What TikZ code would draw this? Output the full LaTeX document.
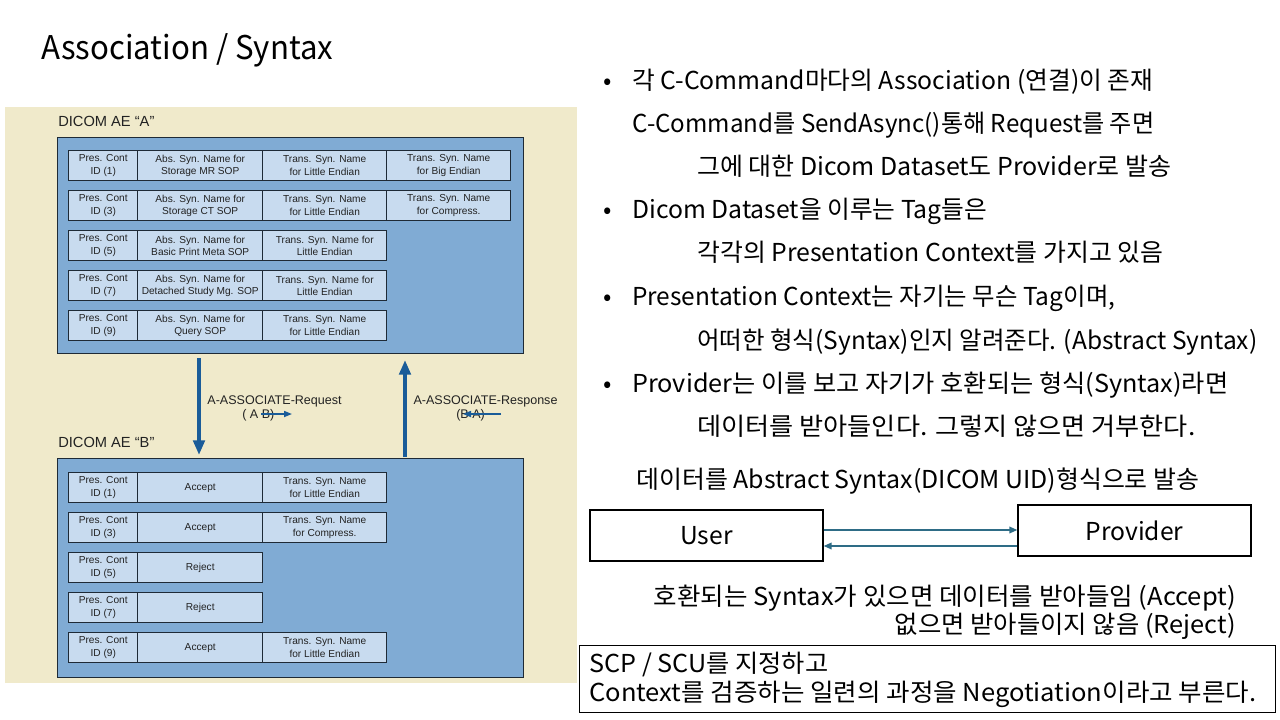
\documentclass[tikz,border=0pt]{standalone}
\usepackage{fontspec}
\usepackage{graphicx}
\setmainfont{Liberation Sans}
\newfontfamily\krfont{Noto Sans CJK KR}
\usetikzlibrary{arrows.meta}

\definecolor{panelbg}{HTML}{F0EACB}
\definecolor{boxblue}{HTML}{80ABD4}
\definecolor{cellfill}{HTML}{C8DBEF}
\definecolor{cellline}{HTML}{1E2A36}
\definecolor{arrowblue}{HTML}{1A5C99}
\definecolor{linkteal}{HTML}{2E6C86}
\definecolor{inktext}{HTML}{222222}

% one drawing unit = one pixel of a 1280x720 slide
\newdimen\pxu \pxu=0.75pt
% set a line of text to a given width (in pixels), keeping its height
\newcommand\fitw[2]{\resizebox{#1\pxu}{\height}{#2}}

\begin{document}
\begin{tikzpicture}[x=0.75pt,y=-0.75pt,
  cell/.style={draw=cellline, line width=1.1pt, fill=cellfill, inner sep=0pt,
    anchor=north west, minimum height=22.5pt, align=center, text=inktext,
    font=\fontsize{7.6}{9.4}\selectfont},
  cA/.style={cell, minimum width=51.75pt},
  cB/.style={cell, minimum width=93.75pt},
  cC/.style={cell, minimum width=93pt},
  bluebox/.style={draw=cellline, line width=1pt, fill=boxblue, anchor=north west, inner sep=0pt, minimum width=349.5pt},
  aelabel/.style={anchor=base west, inner sep=0pt, text=inktext, font=\fontsize{11}{13}\selectfont},
  msglabel/.style={inner sep=0pt, text=inktext, font=\fontsize{9.4}{11}\selectfont},
  bigarrow/.style={draw=arrowblue, line width=3pt, -{Triangle[length=11pt,width=8.5pt]}},
  smallarrow/.style={draw=arrowblue, line width=1.2pt, -{Triangle[length=6pt,width=4.5pt]}},
  kr/.style={anchor=base west, inner sep=0pt, font=\krfont\fontsize{18.5}{22}\selectfont},
  krbox/.style={draw=black, line width=1pt, inner sep=0pt, font=\krfont\fontsize{18.5}{22}\selectfont},
  link/.style={draw=linkteal, line width=1.1pt, -{Triangle[length=6pt,width=5pt]}}
]
\useasboundingbox (0,0) rectangle (1280,720);
\fill[white] (0,0) rectangle (1280,720);

% title
\node (title) [anchor=base west, inner sep=0pt, font=\krfont\fontsize{24.5}{30}\selectfont] at (41,60) {\fitw{292}{Association / Syntax}};

% ---------------- association diagram ----------------
\node (panel) [fill=panelbg, anchor=north west, inner sep=0pt, minimum width=429pt, minimum height=432pt] at (5,107) {};

\node (labA) [aelabel] at (58,127) {DICOM AE “A”};
\node (boxA) [bluebox, minimum height=162pt] at (57,137) {};

% requester presentation contexts
\node (a1i) [cA] at (68,150) {Pres. Cont\\ID (1)};
\node (a1s) [cB] at (137,150) {Abs. Syn. Name for\\Storage MR SOP};
\node (a1t) [cC] at (262,150) {Trans. Syn. Name\\for Little Endian};
\node (a1u) [cC] at (386,150) {Trans. Syn. Name\\for Big Endian};

\node (a3i) [cA] at (68,190) {Pres. Cont\\ID (3)};
\node (a3s) [cB] at (137,190) {Abs. Syn. Name for\\Storage CT SOP};
\node (a3t) [cC] at (262,190) {Trans. Syn. Name\\for Little Endian};
\node (a3u) [cC] at (386,190) {Trans. Syn. Name\\for Compress.};

\node (a5i) [cA] at (68,230) {Pres. Cont\\ID (5)};
\node (a5s) [cB] at (137,230) {Abs. Syn. Name for\\Basic Print Meta SOP};
\node (a5t) [cC] at (262,230) {Trans. Syn. Name for\\Little Endian};

\node (a7i) [cA] at (68,270) {Pres. Cont\\ID (7)};
\node (a7s) [cB] at (137,270) {Abs. Syn. Name for\\Detached Study Mg. SOP};
\node (a7t) [cC] at (262,270) {Trans. Syn. Name for\\Little Endian};

\node (a9i) [cA] at (68,310) {Pres. Cont\\ID (9)};
\node (a9s) [cB] at (137,310) {Abs. Syn. Name for\\Query SOP};
\node (a9t) [cC] at (262,310) {Trans. Syn. Name\\for Little Endian};

\node (labB) [aelabel] at (58,447) {DICOM AE “B”};
\node (boxB) [bluebox, minimum height=164.25pt] at (57,458) {};

% acceptor replies
\node (b1i) [cA] at (68,472) {Pres. Cont\\ID (1)};
\node (b1s) [cB] at (137,472) {Accept};
\node (b1t) [cC] at (262,472) {Trans. Syn. Name\\for Little Endian};

\node (b3i) [cA] at (68,512) {Pres. Cont\\ID (3)};
\node (b3s) [cB] at (137,512) {Accept};
\node (b3t) [cC] at (262,512) {Trans. Syn. Name\\for Compress.};

\node (b5i) [cA] at (68,552) {Pres. Cont\\ID (5)};
\node (b5s) [cB] at (137,552) {Reject};

\node (b7i) [cA] at (68,592) {Pres. Cont\\ID (7)};
\node (b7s) [cB] at (137,592) {Reject};

\node (b9i) [cA] at (68,632) {Pres. Cont\\ID (9)};
\node (b9s) [cB] at (137,632) {Accept};
\node (b9t) [cC] at (262,632) {Trans. Syn. Name\\for Little Endian};

% association request / response
\coordinate (reqFrom) at (199,358);
\coordinate (reqTo) at (199,455);
\coordinate (rspFrom) at (405,457);
\coordinate (rspTo) at (405,360);
\draw[bigarrow] (reqFrom) -- (reqTo);
\draw[bigarrow] (rspFrom) -- (rspTo);

\node (reqtxt) [msglabel, anchor=base] at (274.5,404.5) {A-ASSOCIATE-Request};
\node (reqdir) [msglabel, anchor=base west] at (242,418.5) {( A B)};
\node (rsptxt) [msglabel, anchor=base] at (485.5,404.5) {A-ASSOCIATE-Response};
\node (rspdir) [msglabel, anchor=base west] at (456,418.5) {(B A)};
\coordinate (reqS) at (261,414);
\coordinate (reqE) at (292,414);
\coordinate (rspS) at (501,414);
\coordinate (rspE) at (463,414);
\draw[smallarrow] (reqS) -- (reqE);
\draw[smallarrow] (rspS) -- (rspE);

% ---------------- notes ----------------
\node (bul1) [kr] at (603,90) {•};
\node (t1) [kr] at (632,90) {\fitw{521}{각 C-Command마다의 Association (연결)이 존재}};
\node (t2) [kr] at (632,133) {\fitw{522}{C-Command를 SendAsync()통해 Request를 주면}};
\node (t3) [kr] at (697,176) {\fitw{474}{그에 대한 Dicom Dataset도 Provider로 발송}};
\node (bul2) [kr] at (603,219) {•};
\node (t4) [kr] at (632,219) {\fitw{355}{Dicom Dataset을 이루는 Tag들은}};
\node (t5) [kr] at (697,262) {\fitw{466}{각각의 Presentation Context를 가지고 있음}};
\node (bul3) [kr] at (603,305) {•};
\node (t6) [kr] at (632,305) {\fitw{483}{Presentation Context는 자기는 무슨 Tag이며,}};
\node (t7) [kr] at (697,349) {\fitw{560}{어떠한 형식(Syntax)인지 알려준다. (Abstract Syntax)}};
\node (bul4) [kr] at (603,392) {•};
\node (t8) [kr] at (632,392) {\fitw{596}{Provider는 이를 보고 자기가 호환되는 형식(Syntax)라면}};
\node (t9) [kr] at (697,435) {\fitw{498}{데이터를 받아들인다. 그렇지 않으면 거부한다.}};

\node (t10) [kr] at (636,488) {\fitw{563}{데이터를 Abstract Syntax(DICOM UID)형식으로 발송}};

% user / provider exchange
\node (user) [krbox, minimum width=174.75pt, minimum height=38.25pt] at (706.5,535.5) {User};
\node (provider) [krbox, minimum width=174.75pt, minimum height=38.25pt] at (1134.5,530.5) {Provider};
\coordinate (lane1) at (0,530);
\coordinate (lane2) at (0,546);
\draw[link] (user.east |- lane1) -- (provider.west |- lane1);
\draw[link] (provider.west |- lane2) -- (user.east |- lane2);

\node (acc) [kr, anchor=base east] at (1236,605) {\fitw{582}{호환되는 Syntax가 있으면 데이터를 받아들임 (Accept)}};
\node (rej) [kr, anchor=base east] at (1236,633) {\fitw{341}{없으면 받아들이지 않음 (Reject)}};

% summary box
\node (summary) [draw=black, line width=0.9pt, anchor=north west, inner sep=0pt, minimum width=522pt, minimum height=50.25pt] at (579,645) {};
\node (s1) [kr] at (589,672) {\fitw{239}{SCP / SCU를 지정하고}};
\node (s2) [kr] at (589,701) {\fitw{667}{Context를 검증하는 일련의 과정을 Negotiation이라고 부른다.}};
\end{tikzpicture}
\end{document}
